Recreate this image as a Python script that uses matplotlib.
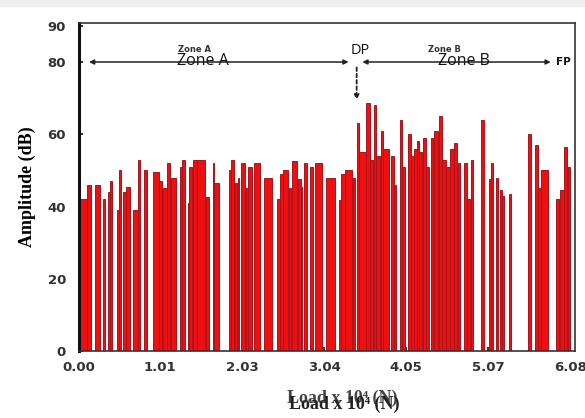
import matplotlib
matplotlib.use("Agg")
import matplotlib.pyplot as plt
from matplotlib.patches import Rectangle

# ---- data (load in x10^4 N, amplitude in dB) ----
load_start = [0.02, 0.10, 0.20, 0.30, 0.36, 0.39, 0.47, 0.50, 0.55, 0.59,
              0.68, 0.74, 0.81, 0.92, 0.99, 1.04, 1.09, 1.14, 1.25, 1.28,
              1.35, 1.37, 1.42, 1.46, 1.58, 1.66, 1.68, 1.86, 1.88, 1.93,
              1.97, 2.01, 2.07, 2.10, 2.17, 2.30, 2.46, 2.49, 2.53, 2.60,
              2.64, 2.72, 2.75, 2.79, 2.86, 2.93, 3.06, 3.22, 3.25, 3.29,
              3.39, 3.44, 3.47, 3.56, 3.60, 3.65, 3.68, 3.74, 3.77, 3.86,
              3.90, 3.97, 4.00, 4.08, 4.11, 4.15, 4.18, 4.21, 4.26, 4.30,
              4.36, 4.40, 4.46, 4.50, 4.55, 4.59, 4.64, 4.69, 4.77, 4.81,
              4.85, 4.98, 5.08, 5.10, 5.16, 5.21, 5.24, 5.32, 5.56, 5.64,
              5.68, 5.72, 5.91, 5.96, 6.01, 6.05]
load_end = [0.10, 0.16, 0.26, 0.33, 0.39, 0.42, 0.50, 0.52, 0.59, 0.64,
            0.73, 0.76, 0.85, 0.99, 1.03, 1.09, 1.13, 1.21, 1.28, 1.32,
            1.37, 1.40, 1.46, 1.57, 1.62, 1.68, 1.74, 1.88, 1.92, 1.96,
            1.99, 2.06, 2.10, 2.14, 2.25, 2.39, 2.49, 2.53, 2.59, 2.63,
            2.70, 2.75, 2.77, 2.82, 2.90, 3.01, 3.17, 3.25, 3.29, 3.38,
            3.42, 3.47, 3.55, 3.60, 3.64, 3.68, 3.73, 3.77, 3.84, 3.90,
            3.93, 4.00, 4.04, 4.11, 4.15, 4.18, 4.21, 4.25, 4.30, 4.34,
            4.39, 4.44, 4.50, 4.55, 4.59, 4.64, 4.68, 4.72, 4.80, 4.84,
            4.88, 5.02, 5.10, 5.13, 5.19, 5.24, 5.26, 5.35, 5.60, 5.68,
            5.72, 5.81, 5.94, 6.00, 6.04, 6.08]
amplitude = [42, 46, 46, 42, 44, 47, 39, 50, 44, 45.5,
             39, 53, 50, 49.5, 47, 45, 52, 48, 51, 53,
             41, 51, 53, 53, 42.5, 52, 46.5, 50, 53, 46.5,
             48, 52, 45, 51, 52, 48, 42, 49, 50, 45,
             52.5, 47.5, 45.5, 52, 51, 52, 48, 41.7, 49, 50,
             48, 63, 55, 68.7, 53, 68, 54, 61, 56, 54,
             46, 64, 51, 60, 54, 56, 58, 55, 59, 51,
             59, 61, 65, 53, 51, 56, 57.5, 52, 52, 42,
             53, 64, 47.5, 52, 48, 44.5, 43, 43.5, 60, 57,
             45, 50, 42, 44.5, 56.5, 51]

x_ticks = [0.00, 1.01, 2.03, 3.04, 4.05, 5.07, 6.08]
x_tick_labels = ["0.00", "1.01", "2.03", "3.04", "4.05", "5.07", "6.08"]
y_ticks = [0, 20, 40, 60, 80, 90]

fig = plt.figure(figsize=(5.85, 4.18), dpi=100)
fig.patches.append(Rectangle((0, 1 - 6 / 418), 1, 6 / 418, transform=fig.transFigure,
                             color="#eeeeee", zorder=0))
ax = fig.add_axes([78.5 / 585, 1 - 351 / 418, (575 - 78.5) / 585, (351 - 23) / 418])

widths = [e - s for s, e in zip(load_start, load_end)]
ax.bar(load_start, amplitude, width=widths, align="edge",
       color="#ee1010", edgecolor="#a8141c", linewidth=0.7, zorder=2)

ax.set_xlim(0, 6.14)
ax.set_ylim(0, 90.8)
ax.set_xticks(x_ticks)
ax.set_xticklabels(x_tick_labels)
ax.set_yticks(y_ticks)
ax.tick_params(axis="both", direction="in", length=3, width=1.2, colors="#111111",
               labelsize=9.5, labelcolor="#333333")
ax.tick_params(axis="x", pad=7)
ax.tick_params(axis="y", pad=9)
for lab in ax.get_xticklabels() + ax.get_yticklabels():
    lab.set_fontweight("bold")

for side in ["top", "right", "bottom"]:
    ax.spines[side].set_linewidth(1.2)
    ax.spines[side].set_color("#333333")
ax.spines["left"].set_linewidth(2.2)
ax.spines["left"].set_color("#111111")

serif = ["Liberation Serif", "DejaVu Serif"]
ax.set_ylabel("Amplitude (dB)", fontsize=13, fontweight="bold", family=serif, labelpad=8)
fig.text(342 / 585, 1 - 398 / 418, "Load x 10\u2074 (N)", fontsize=13, fontweight="bold",
         family=serif, ha="center", va="center", color="#444444")
fig.text(344 / 585, 1 - 404 / 418, "Load x 10\u2074 (N)", fontsize=13, fontweight="bold",
         family=serif, ha="center", va="center", color="#222222")

# zone arrows
ax.annotate("", xy=(0.13, 80), xytext=(3.34, 80),
            arrowprops=dict(arrowstyle="<|-|>", color="#222222", lw=1.1,
                            mutation_scale=7, shrinkA=0, shrinkB=0))
ax.annotate("", xy=(3.51, 80), xytext=(5.84, 80),
            arrowprops=dict(arrowstyle="<|-|>", color="#222222", lw=1.1,
                            mutation_scale=7, shrinkA=0, shrinkB=0))
ax.annotate("", xy=(3.44, 69.5), xytext=(3.44, 78.5),
            arrowprops=dict(arrowstyle="-|>", color="#222222", lw=1.3,
                            linestyle=(0, (2, 1.5)), mutation_scale=7,
                            shrinkA=0, shrinkB=0))

ax.text(1.44, 83.4, "Zone A", fontsize=6, fontweight="bold", ha="center", va="center",
        color="#333333")
ax.text(4.52, 83.4, "Zone B", fontsize=6, fontweight="bold", ha="center", va="center",
        color="#333333")
ax.text(1.54, 80.3, "Zone A", fontsize=11.5, family="Open Sans", ha="center",
        va="center", color="#111111")
ax.text(4.77, 80.3, "Zone B", fontsize=11.5, family="Open Sans", ha="center",
        va="center", color="#111111")
ax.text(3.48, 83.2, "DP", fontsize=10.5, family="Open Sans", ha="center",
        va="center", color="#111111")
ax.text(6.00, 80.0, "FP", fontsize=7.5, fontweight="bold", ha="center",
        va="center", color="#111111")

fig.savefig("out.png", dpi=100)
